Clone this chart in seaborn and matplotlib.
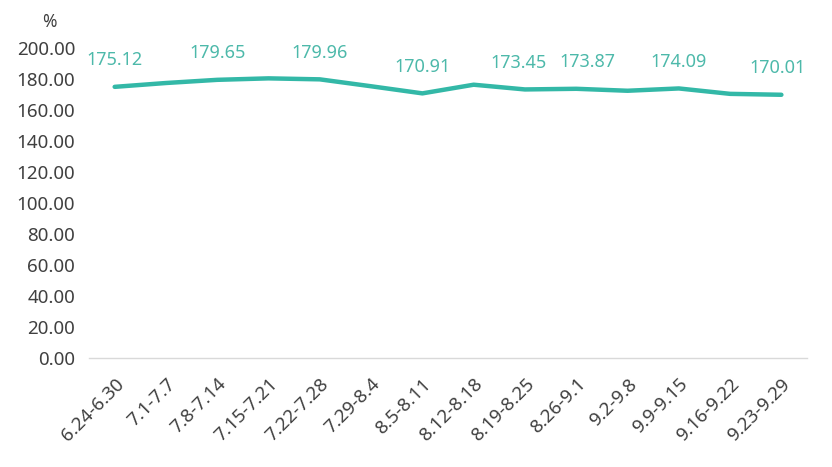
import pandas as pd
import matplotlib.pyplot as plt
import seaborn as sns

# 周度数据（单位：%）
weeks = ["6.24-6.30", "7.1-7.7", "7.8-7.14", "7.15-7.21", "7.22-7.28", "7.29-8.4",
         "8.5-8.11", "8.12-8.18", "8.19-8.25", "8.26-9.1", "9.2-9.8", "9.9-9.15",
         "9.16-9.22", "9.23-9.29"]
values = [175.12, 177.6, 179.65, 180.6, 179.96, 175.5,
          170.91, 176.5, 173.45, 173.87, 172.6, 174.09,
          170.6, 170.01]
# 需要标注数值的点，以及标签的水平微调（像素）
labeled = [0, 2, 4, 6, 8, 9, 11, 13]
label_dx = [0, 0, 0, 0, -6, 11, 0, -4]

LINE_COLOR = "#33B8A7"
LABEL_COLOR = "#4DB9AA"
TEXT_COLOR = "#404040"


def draw():
    df = pd.DataFrame({"week": weeks, "value": values})

    sns.set_style("white")
    plt.rcParams["font.family"] = ["Noto Sans", "DejaVu Sans"]

    fig = plt.figure(figsize=(8.32, 4.67), dpi=100)
    ax = fig.add_axes([0.107, 0.2328, 0.863, 0.6638])

    sns.lineplot(data=df, x="week", y="value", ax=ax, sort=False,
                 color=LINE_COLOR, linewidth=3.2, solid_capstyle="round")

    for i, dx in zip(labeled, label_dx):
        ax.annotate(f"{values[i]:.2f}", xy=(i, values[i]), xytext=(dx * 0.72, 19),
                    textcoords="offset points", ha="center", va="center",
                    fontsize=13, color=LABEL_COLOR)

    ax.set_xlim(-0.5, len(weeks) - 0.5)
    ax.set_ylim(0, 200)
    ax.set_yticks(range(0, 201, 20))
    ax.set_yticklabels([f"{v:.2f}" for v in range(0, 201, 20)])
    ax.set_xticks(range(len(weeks)))
    ax.set_xticklabels(weeks, rotation=45, ha="right", rotation_mode="anchor")

    ax.tick_params(axis="y", length=0, pad=10, labelsize=13.5, labelcolor=TEXT_COLOR)
    ax.tick_params(axis="x", length=0, pad=12, labelsize=13.5, labelcolor=TEXT_COLOR)
    ax.set_xlabel("")
    ax.set_ylabel("")
    ax.grid(False)

    for side in ["top", "right", "left"]:
        ax.spines[side].set_visible(False)
    ax.spines["bottom"].set_color("#D9D9D9")
    ax.spines["bottom"].set_linewidth(1)

    fig.text(49 / 832, 1 - 22 / 467, "%", ha="center", va="center",
             fontsize=12.5, color=TEXT_COLOR)

    fig.savefig("out.png", dpi=100)


if __name__ == "__main__":
    draw()
